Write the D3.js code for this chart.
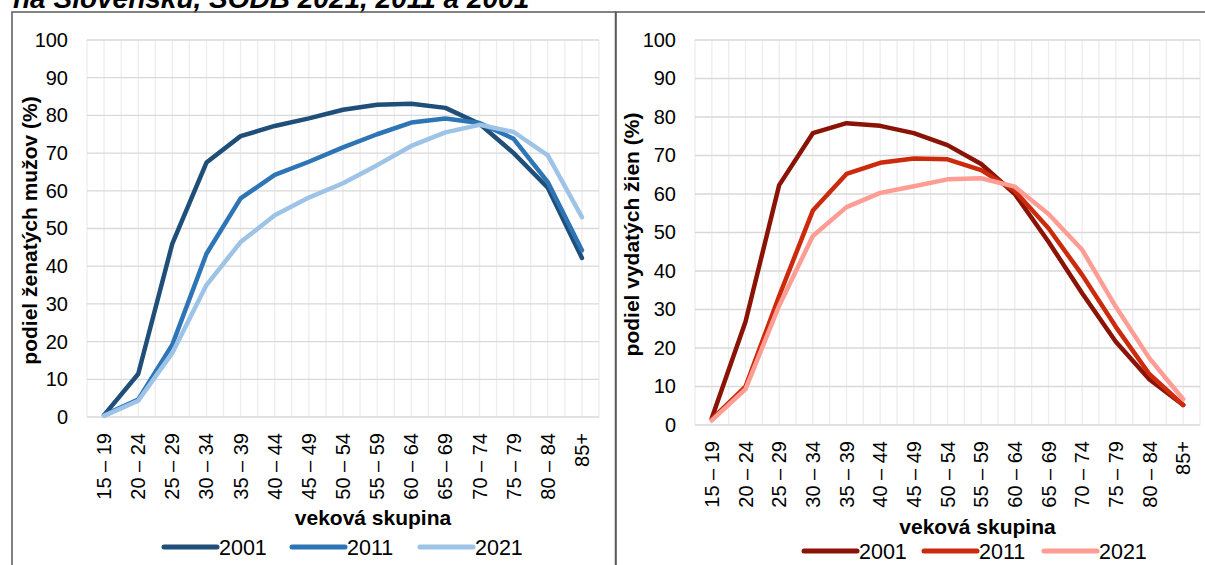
<!DOCTYPE html>
<html><head><meta charset="utf-8">
<script src="https://cdn.jsdelivr.net/npm/d3@7"></script>
<style>body{margin:0;background:#fff;}svg{display:block;font-family:"Liberation Sans",Arial,sans-serif;}</style>
</head><body>
<svg id="c" width="1205" height="565"></svg>
<script>
const categories = ["15 – 19","20 – 24","25 – 29","30 – 34","35 – 39","40 – 44","45 – 49","50 – 54","55 – 59","60 – 64","65 – 69","70 – 74","75 – 79","80 – 84","85+"];
const years = ["2001","2011","2021"];
const yTicks = [0,10,20,30,40,50,60,70,80,90,100];
const men2001 = [0.5,11.4,46.0,67.5,74.5,77.2,79.2,81.5,82.8,83.1,82.0,77.8,70.0,60.8,42.2];
const men2011 = [0.5,4.6,19.2,43.3,58.0,64.2,67.7,71.5,75.0,78.1,79.2,78.0,73.8,62.3,44.2];
const men2021 = [0.3,4.3,17.0,35.0,46.4,53.5,58.2,62.0,66.8,71.9,75.5,77.5,75.6,69.4,53.0];
const women2001 = [1.8,26.8,62.3,75.8,78.4,77.7,75.8,72.7,67.8,60.0,47.6,34.2,21.6,11.8,5.2];
const women2011 = [1.5,10.0,33.5,55.7,65.2,68.1,69.2,69.0,66.2,60.8,51.1,39.0,25.5,13.2,5.2];
const women2021 = [1.2,9.3,31.0,49.1,56.6,60.3,62.0,63.8,64.1,61.9,54.8,45.5,30.7,17.3,6.7];
const titleText = "na Slovensku, SODB 2021, 2011 a 2001";

const svg = d3.select("#c");

// chart title (cut at top, as in the reference)
svg.append("text").attr("x",13).attr("y",8).attr("font-size",28).attr("font-weight","bold")
  .attr("font-style","italic").attr("fill","#000").text(titleText);

// panel boxes
svg.append("rect").attr("x",12).attr("y",12).attr("width",603.5).attr("height",570)
  .attr("fill","none").attr("stroke","#595959").attr("stroke-width",1.5);
svg.append("rect").attr("x",616).attr("y",12).attr("width",600).attr("height",570)
  .attr("fill","none").attr("stroke","#595959").attr("stroke-width",1.5);

function panel(cfg){
  const g = svg.append("g");
  const x = d3.scaleBand().domain(categories).range([cfg.left,cfg.right]);
  const y = d3.scaleLinear().domain([0,100]).range([cfg.bottom,cfg.top]);
  const vpos = [];
  categories.forEach(c=>{vpos.push(x(c)); vpos.push(x(c)+x.bandwidth()/2);});
  vpos.push(cfg.right);
  g.selectAll(".vg").data(vpos).enter().append("line")
    .attr("x1",d=>d).attr("x2",d=>d).attr("y1",cfg.top).attr("y2",cfg.bottom)
    .attr("stroke","#ededed").attr("stroke-width",1.3);
  g.selectAll(".hg").data(yTicks).enter().append("line")
    .attr("x1",cfg.left).attr("x2",cfg.right).attr("y1",d=>y(d)).attr("y2",d=>y(d))
    .attr("stroke","#d9d9d9").attr("stroke-width",1.3);
  const ya = g.append("g").attr("transform",`translate(${cfg.left},0)`)
    .call(d3.axisLeft(y).tickValues(yTicks).tickSize(0).tickPadding(19));
  ya.select(".domain").remove();
  ya.selectAll("text").attr("font-size",20).attr("fill","#000").attr("font-family","Liberation Sans, Arial, sans-serif");
  const xa = g.append("g").attr("transform",`translate(0,${cfg.bottom})`)
    .call(d3.axisBottom(x).tickSize(0));
  xa.select(".domain").remove();
  xa.selectAll("text").attr("font-size",20).attr("fill","#000").attr("font-family","Liberation Sans, Arial, sans-serif")
    .attr("text-anchor","end").attr("transform","rotate(-90)")
    .attr("x",-16).attr("y",0).attr("dy","0.35em");
  g.append("text").attr("transform",`translate(${cfg.yTitleX},${(cfg.top+cfg.bottom)/2+2}) rotate(-90)`)
    .attr("text-anchor","middle").attr("font-size",21).attr("font-weight","bold").text(cfg.yTitle);
  g.append("text").attr("x",(cfg.left+cfg.right)/2+30).attr("y",cfg.xTitleY)
    .attr("text-anchor","middle").attr("font-size",21).attr("font-weight","bold").text("veková skupina");
  const line = d3.line().x((d,i)=>x(categories[i])+x.bandwidth()/2).y(d=>y(d));
  cfg.series.forEach((s,k)=>{
    g.append("path").datum(s).attr("d",line).attr("fill","none")
      .attr("stroke",cfg.colors[k]).attr("stroke-width",4.5)
      .attr("stroke-linejoin","round").attr("stroke-linecap","round");
  });
  years.forEach((yr,k)=>{
    const lx = cfg.legX + k*cfg.legStep;
    g.append("line").attr("x1",lx).attr("x2",lx+cfg.legLen).attr("y1",cfg.legY).attr("y2",cfg.legY)
      .attr("stroke",cfg.colors[k]).attr("stroke-width",5).attr("stroke-linecap","round");
    g.append("text").attr("x",lx+cfg.legLen+2).attr("y",cfg.legY+7.5).attr("font-size",21.5).text(yr);
  });
}

panel({left:87,right:599,top:40,bottom:417,yTitleX:37,xTitleY:525,
  yTitle:"podiel ženatých mužov (%)",series:[men2001,men2011,men2021],
  colors:["#1f4e79","#2e75b6","#9dc3e6"],legX:164,legStep:128,legLen:53,legY:547});
panel({left:695,right:1200,top:40,bottom:425,yTitleX:639,xTitleY:534,
  yTitle:"podiel vydatých žien (%)",series:[women2001,women2011,women2021],
  colors:["#8b1306","#cc2a0c","#ff9c94"],legX:804,legStep:120,legLen:53,legY:551});
</script>
</body></html>
